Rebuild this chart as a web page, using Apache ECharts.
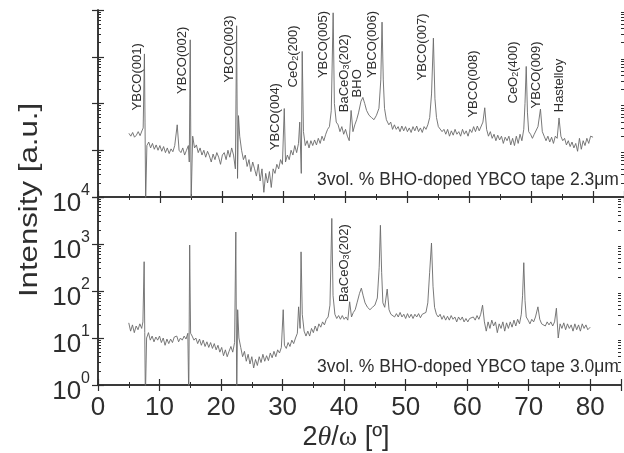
<!DOCTYPE html>
<html>
<head>
<meta charset="utf-8">
<script src="https://cdn.jsdelivr.net/npm/echarts@6/dist/echarts.min.js"></script>
<style>
html,body{margin:0;padding:0;background:#fff;}
#chart{width:624px;height:453px;}
</style>
</head>
<body>
<div id="chart"></div>
<script>
// 2theta/omega scan positions (deg), shared by both tapes
var angle = [
	5.0,5.3,5.6,5.9,6.2,6.5,6.8,7.1,7.3,7.5,
	7.6,7.7,7.9,8.2,8.5,8.8,9.1,9.4,9.7,10.0,
	10.3,10.6,10.9,11.2,11.5,11.8,12.1,12.4,12.8,13.1,
	13.4,13.7,14.0,14.3,14.6,14.75,14.9,15.05,15.3,15.6,
	15.9,16.2,16.5,16.8,17.1,17.4,17.7,18.0,18.3,18.6,
	18.9,19.2,19.5,19.8,20.1,20.4,20.7,21.0,21.3,21.6,
	21.9,22.2,22.4,22.55,22.7,22.9,23.2,23.5,23.8,24.1,
	24.4,24.7,25.0,25.3,25.6,25.9,26.2,26.5,26.8,27.1,
	27.4,27.7,28.0,28.3,28.6,28.9,29.2,29.5,29.8,30.1,
	30.3,30.6,30.9,31.2,31.5,31.8,32.1,32.4,32.6,32.85,
	33.0,33.2,33.5,33.8,34.1,34.4,34.7,35.0,35.3,35.6,
	35.9,36.2,36.5,36.8,37.1,37.4,37.7,38.0,38.2,38.5,
	38.8,39.1,39.4,39.7,40.0,40.3,40.6,40.9,41.2,41.5,
	41.8,42.1,42.5,42.8,43.1,43.4,43.8,44.2,44.6,45.0,
	45.4,45.7,45.9,46.1,46.3,46.6,47.0,47.3,47.6,47.9,
	48.2,48.5,48.8,49.1,49.4,49.7,50.0,50.3,50.6,50.9,
	51.2,51.5,51.8,52.1,52.4,52.7,53.0,53.3,53.6,53.9,
	54.2,54.45,54.7,55.0,55.3,55.6,55.9,56.2,56.5,56.8,
	57.1,57.4,57.7,58.0,58.3,58.6,58.9,59.2,59.5,59.8,
	60.1,60.4,60.7,61.0,61.3,61.6,61.9,62.2,62.5,62.8,
	63.1,63.4,63.7,64.0,64.3,64.6,64.9,65.2,65.5,65.8,
	66.1,66.4,66.7,67.0,67.3,67.6,67.9,68.2,68.5,68.8,
	69.0,69.2,69.4,69.6,69.9,70.2,70.5,70.8,71.1,71.5,
	71.8,72.1,72.4,72.7,73.0,73.3,73.6,73.9,74.2,74.5,
	74.8,75.1,75.4,75.7,76.0,76.3,76.6,76.9,77.2,77.5,
	77.8,78.1,78.4,78.7,79.0,79.3,79.6,80.0
];

// 2.3um tape (top panel)
var counts23 = [
	2.3e5,2.0e5,2.4e5,1.9e5,2.1e5,2.5e5,2.05e5,2.6e5,3.0e5,1.15e7,
	4.0e5,8e3,1.26e5,1.5e5,1.12e5,1.4e5,1.05e5,1.3e5,1.0e5,1.26e5,
	9.5e4,1.2e5,8.9e4,1.12e5,8.5e4,1.07e5,9.3e4,1.26e5,3.5e5,1.0e5,
	8.9e4,1.12e5,7.9e4,1.0e5,1.26e5,5.6e4,2.3e7,8e3,2.0e5,1.12e5,
	1.3e5,8.9e4,1.12e5,7.9e4,1.0e5,7.1e4,9.5e4,7.6e4,5.6e4,8.3e4,
	6.3e4,8.9e4,7.1e4,5.0e4,7.9e4,8.9e4,6.3e4,1.0e5,7.1e4,1.12e5,
	7.9e4,4.0e4,4.6e7,2.5e4,5.5e5,2.0e5,1.0e5,6.3e4,7.9e4,4.5e4,
	6.3e4,3.5e4,5.6e4,4.0e4,2.8e4,5.0e4,2.2e4,4.0e4,1.26e4,3.2e4,
	2.0e4,3.5e4,1.6e4,4.0e4,3.2e4,5.0e4,4.0e4,6.3e4,5.0e4,7.8e5,
	5.6e4,7.9e4,6.3e4,1.0e5,7.9e4,1.26e5,8.9e4,1.4e5,4.0e5,3.2e4,
	1.3e7,2.5e5,1.26e5,1.6e5,1.12e5,1.6e5,1.26e5,1.66e5,1.3e5,1.8e5,
	1.4e5,2.0e5,1.6e5,2.2e5,2.8e5,3.2e5,7.1e5,8.7e7,1.0e6,4.0e5,
	3.5e5,2.5e5,3.2e5,2.2e5,2.8e5,2.0e5,1.6e5,7.1e5,2.5e5,3.5e5,
	4.5e5,6.3e5,1.12e6,1.35e6,1.0e6,7.1e5,5.6e5,5.0e5,4.5e5,5.6e5,
	7.9e5,3.2e6,5.5e7,3.2e6,7.9e5,4.5e5,3.5e5,4.0e5,2.8e5,3.5e5,
	2.8e5,3.2e5,2.5e5,3.3e5,2.6e5,3.2e5,2.5e5,3.0e5,2.4e5,3.2e5,
	2.6e5,3.3e5,2.5e5,3.0e5,2.4e5,3.2e5,2.8e5,3.5e5,5.0e5,1.6e6,
	2.5e7,1.26e6,5.0e5,3.2e5,3.5e5,2.5e5,2.8e5,2.2e5,2.8e5,2.0e5,
	2.6e5,2.1e5,2.8e5,2.2e5,2.5e5,2.0e5,2.8e5,2.2e5,2.6e5,2.0e5,
	2.8e5,2.4e5,3.2e5,2.5e5,3.3e5,2.6e5,2.5e5,4.0e5,8.1e5,2.8e5,
	2.0e5,2.5e5,1.8e5,2.2e5,1.6e5,2.1e5,1.66e5,2.0e5,1.4e5,1.9e5,
	1.6e5,2.0e5,1.3e5,1.8e5,1.26e5,2.0e5,1.4e5,2.2e5,1.6e5,2.8e5,
	1.0e6,6.2e6,6.3e5,2.5e5,2.2e5,1.8e5,2.2e5,2.0e5,3.2e5,7.6e5,
	2.5e5,2.0e5,1.6e5,2.0e5,1.5e5,1.9e5,1.4e5,2.0e5,1.8e5,4.9e5,
	2.0e5,1.6e5,1.8e5,1.3e5,1.6e5,1.2e5,1.5e5,1.12e5,1.4e5,9.5e4,
	1.8e5,1.05e5,1.6e5,1.26e5,1.8e5,1.4e5,2.0e5,1.9e5
];

// 3.0um tape (bottom panel)
var counts30 = [
	21,14,19,13,18,15,20,16,22,420,
	13,0.5,10,13,9,11,8.3,10.5,9,11,
	8,10,7,9.5,7.6,9.5,8,10.5,11,8.3,
	10,9,11,9.5,12.6,0.5,950,12.6,11,9,
	10,7.6,9.5,7,9,6.6,8.3,6.3,8,6,
	7.6,5.6,7,5,6.3,4.2,5.6,4,5.2,6.6,
	5,8,1800,0.5,40,10,6.3,4,5.2,3.2,
	4.5,2.8,4,2.3,3.5,2.6,4,3,4.5,3.2,
	4.2,3.3,4.8,3.8,5.2,4,5.6,4.8,6.3,40,
	7,6,8,6.6,9,7.6,10,12.6,46,16,
	680,32,14,11,14,11,16,13,18,14,
	20,17,22,19,25,28,50,3500,80,32,
	26,30,25,30,25,28,24,59,28,35,
	40,56,89,115,79,56,45,40,45,50,
	71,320,2500,250,56,45,110,40,32,35,
	28,33,28,35,28,32,26,33,27,32,
	26,32,28,33,27,32,30,35,56,250,
	1050,126,45,32,28,32,25,30,24,29,
	24,30,25,28,22,28,24,28,22,26,
	22,26,24,28,24,30,25,32,50,22,
	14,22,16,24,18,22,13,20,16,22,
	14,21,16,22,17,24,18,25,20,32,
	79,400,63,28,24,20,25,22,28,46,
	25,20,22,18,22,19,22,18,22,43,
	10,20,16,21,15,20,16,19,14,20,
	15,19,14,20,16,19,15,17
];

// peak names and where their labels start (angle, intensity)
var peakNames23 = ['YBCO(001)','YBCO(002)','YBCO(003)','YBCO(004)','CeO2(200)','YBCO(005)','BaCeO3(202)','BHO','YBCO(006)','YBCO(007)','YBCO(008)','CeO2(400)','YBCO(009)','Hastelloy'];
var peakAngle23 = [6.4,13.6,21.2,28.7,31.6,36.4,39.9,42.0,44.4,52.4,60.7,67.1,70.8,74.5];
var peakAt23 = [7.1e5,1.6e6,2.8e6,1.0e5,2.2e6,3.5e6,6.5e5,1.35e6,3.5e6,3.1e6,5.0e5,1.0e6,7.8e5,6.5e5];
var peakNames30 = ['BaCeO3(202)'];
var peakAngle30 = [40.1];
var peakAt30 = [58];

var xMin = 0, xMax = 85, xStep = 10;
var yRange23 = [1e4, 1e8];
var yRange30 = [1, 1e4];

var FONT = '"Liberation Sans", Arial, Helvetica, sans-serif';
var SERIF = '"Liberation Serif", "Times New Roman", serif';
var INK = '#2e2e2e';
var TRACE = '#6a6a6a';

function pairs(values){
	var d = [];
	for(var i=0;i<angle.length;i++){
		d.push([angle[i], values[i]]);
	}
	return d;
}

// minor log ticks 2..9 in every decade (in log10 units)
function minorLogTicks(decades){
	var t = [];
	for(var d=0; d<decades; d++){
		for(var k=2;k<10;k++){
			t.push(d + Math.log10(k));
		}
	}
	return t;
}

var grids = [
	{left:98, top:10, width:530, height:187},
	{left:98, top:197, width:530, height:188}
];

var xAxes = [];
var yAxes = [];
[0,1].forEach(function(g){
	['bottom','top'].forEach(function(pos){
		xAxes.push({
			gridIndex:g, type:'value', position:pos,
			min:xMin, max:xMax, interval:xStep,
			axisLine:{lineStyle:{color:INK, width:1.5}},
			axisTick:{inside:true, length:6, lineStyle:{color:INK, width:1.2}},
			minorTick:{show:true, splitNumber:2, length:3, lineStyle:{color:INK, width:1}},
			splitLine:{show:false},
			axisLabel:{
				show:(g==1 && pos=='bottom'),
				fontFamily:FONT, fontSize:26, color:INK, margin:10,
				formatter:function(v){ return v<=80 ? v : ''; }
			}
		});
	});
	var range = g==0 ? yRange23 : yRange30;
	var decades = Math.round(Math.log10(range[1]/range[0]));
	['left','right'].forEach(function(pos){
		yAxes.push({
			gridIndex:g, type:'log', logBase:10, position:pos,
			min:range[0], max:range[1],
			axisLine:{lineStyle:{color:INK, width:1.5}},
			axisTick:{inside:true, length:6, lineStyle:{color:INK, width:1.2}},
			splitLine:{show:false},
			axisLabel:{
				show:(g==1 && pos=='left'),
				margin:8, color:INK, fontFamily:FONT,
				formatter:function(v){ return '{b|10}{s|'+Math.round(Math.log10(v))+'}'; },
				rich:{
					b:{fontFamily:FONT, fontSize:26, color:INK, lineHeight:28, padding:[14,0,0,0]},
					s:{fontFamily:FONT, fontSize:16, color:INK, lineHeight:16, verticalAlign:'top'}
				}
			}
		});
	});
	['left','right'].forEach(function(pos){
		yAxes.push({
			gridIndex:g, type:'value', position:pos,
			min:0, max:decades,
			axisLine:{show:false},
			axisTick:{inside:true, length:3, customValues:minorLogTicks(decades), lineStyle:{color:INK, width:1}},
			axisLabel:{show:false},
			splitLine:{show:false}
		});
	});
});

var chart = echarts.init(document.getElementById('chart'));

var option = {
	animation:false,
	backgroundColor:'#fff',
	grid:grids,
	xAxis:xAxes,
	yAxis:yAxes,
	series:[
		{
			name:'2.3um', type:'line', xAxisIndex:0, yAxisIndex:0,
			data:pairs(counts23), showSymbol:false, clip:true,
			lineStyle:{color:TRACE, width:0.9}
		},
		{
			name:'3.0um', type:'line', xAxisIndex:2, yAxisIndex:4,
			data:pairs(counts30), showSymbol:false, clip:true,
			lineStyle:{color:TRACE, width:0.9}
		}
	]
};
chart.setOption(option);

// rotated peak labels
function peakLabels(names, angles, at, finder){
	var els = [];
	for(var i=0;i<names.length;i++){
		var p = chart.convertToPixel(finder, [angles[i], at[i]]);
		els.push({
			type:'text', x:p[0], y:p[1], rotation:Math.PI/2,
			style:{
				text:names[i].replace(/O(\d)\(/, 'O{s|$1}('),
				fontFamily:FONT, fontSize:13, fill:INK,
				align:'left', verticalAlign:'middle',
				rich:{
					s:{fontFamily:FONT, fontSize:9, fill:INK, verticalAlign:'bottom', lineHeight:9}
				}
			}
		});
	}
	return els;
}

var graphics = []
	.concat(peakLabels(peakNames23, peakAngle23, peakAt23, {xAxisIndex:0, yAxisIndex:0}))
	.concat(peakLabels(peakNames30, peakAngle30, peakAt30, {xAxisIndex:2, yAxisIndex:4}));

graphics.push({
	type:'text', x:317, y:180,
	style:{text:'3vol. % BHO-doped YBCO tape 2.3μm', fontFamily:FONT, fontSize:17.5, fill:INK, align:'left', verticalAlign:'middle'}
});
graphics.push({
	type:'text', x:317, y:367,
	style:{text:'3vol. % BHO-doped YBCO tape 3.0μm', fontFamily:FONT, fontSize:17.5, fill:INK, align:'left', verticalAlign:'middle'}
});
graphics.push({
	type:'text', x:30, y:200, rotation:Math.PI/2, scaleX:1.2,
	style:{text:'Intensity [a.u.]', fontFamily:FONT, fontSize:26, fill:INK, align:'center', verticalAlign:'middle'}
});
graphics.push({
	type:'text', x:346, y:438,
	style:{
		text:'2{i|θ}/{w|ω} [º]', fontFamily:FONT, fontSize:27, fill:INK, align:'center', verticalAlign:'middle',
		rich:{
			i:{fontFamily:SERIF, fontStyle:'italic', fontSize:28, fill:INK},
			w:{fontFamily:SERIF, fontSize:28, fill:INK}
		}
	}
});

chart.setOption({graphic:{elements:graphics}});
</script>
</body>
</html>
